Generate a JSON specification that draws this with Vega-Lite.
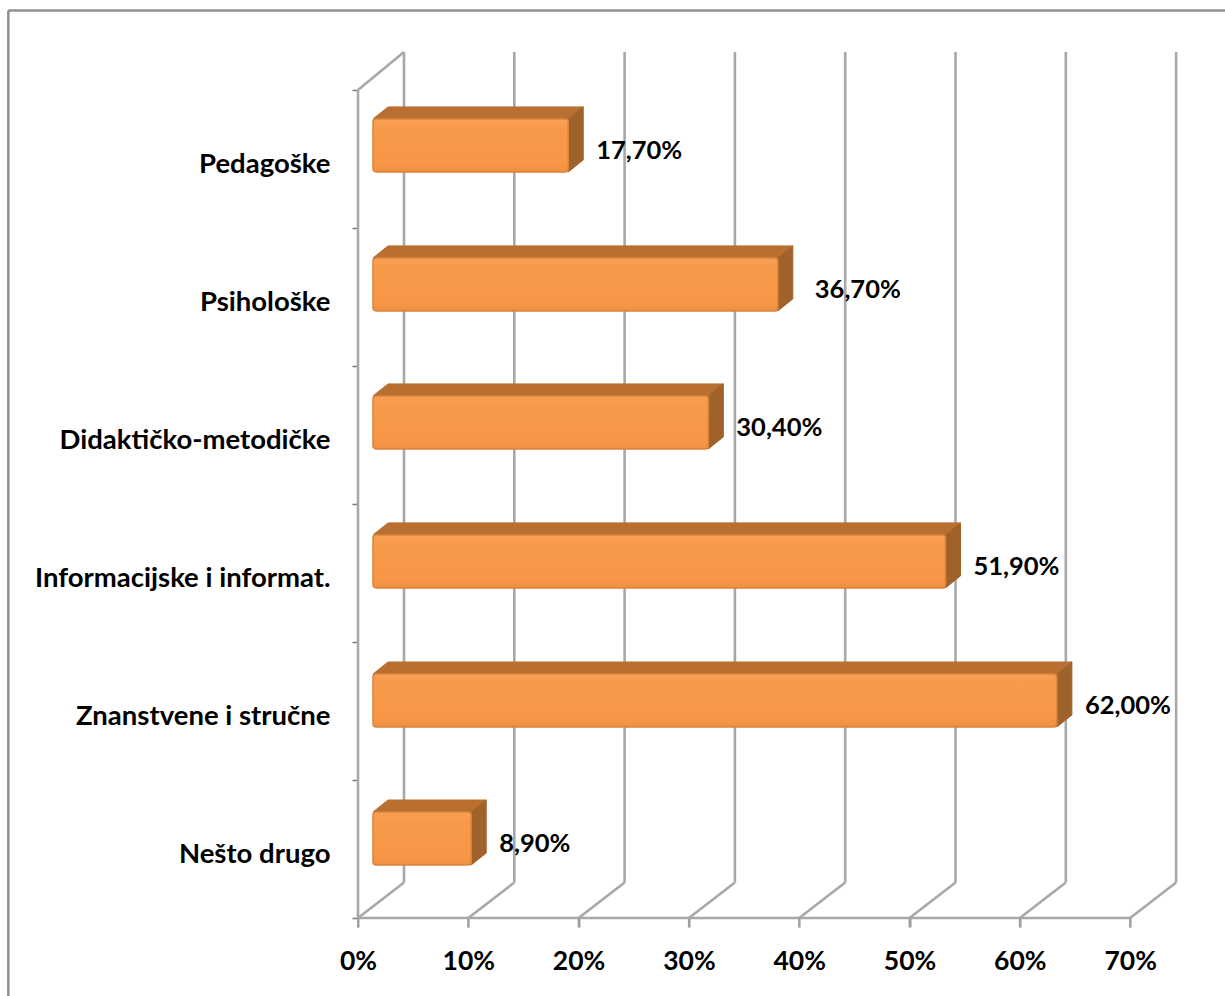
{"$schema":"https://vega.github.io/schema/vega-lite/v6.json","width":820,"height":866,"autosize":"none","padding":{"left":358,"right":47,"top":52,"bottom":78},"background":"white","view":{"stroke":null},
"datasets":{"bars":[{"category":"Pedagoške","pos":5.5,"value":17.7,"label":"17,70%"},{"category":"Psihološke","pos":4.493,"value":36.7,"label":"36,70%"},{"category":"Didaktičko-metodičke","pos":3.493,"value":30.4,"label":"30,40%"},{"category":"Informacijske i informat.","pos":2.486,"value":51.9,"label":"51,90%"},{"category":"Znanstvene i stručne","pos":1.478,"value":62.0,"label":"62,00%"},{"category":"Nešto drugo","pos":0.478,"value":8.9,"label":"8,90%"}],
"ticks":[{"t":0},{"t":10},{"t":20},{"t":30},{"t":40},{"t":50},{"t":60},{"t":70}],
"frame":[{"x0":-31.7,"x1":78.6,"y0":6.575,"y1":6.575},{"x0":-31.7,"x1":-31.7,"y0":-0.57,"y1":6.575}],
"wall":[{"x0":0,"x1":0,"y0":0,"y1":6},{"x0":0,"x1":4.17,"y0":6,"y1":6.275},{"x0":0,"x1":70,"y0":0,"y1":0}]},
"layer":[
{"data":{"name":"frame"},"mark":{"type":"rule","stroke":"#8f8f8f","strokeWidth":2.5},"encoding":{"x":{"field":"x0","type":"quantitative","scale":{"domain":[0,74.34]},"axis":{"values":[0,10,20,30,40,50,60,70],"title":null,"grid":false,"domain":false,"ticks":true,"tickColor":"#999999","tickWidth":2,"tickSize":9,"labelExpr":"datum.value+'%'","labelFont":"Lato","labelFontWeight":"bold","labelFontSize":26.5,"labelColor":"#000000","labelPadding":34,"labelBaseline":"middle","labelOverlap":false,"labelFlush":false}},"x2":{"field":"x1"},"y":{"field":"y0","type":"quantitative","scale":{"domain":[0,6.275]},"axis":{"values":[0,0.5,1,1.5,2,2.5,3,3.5,4,4.5,5,5.5,6],"title":null,"grid":false,"domain":false,"tickColor":"#777777","tickWidth":1.5,"tickSize":6,"tickOpacity":{"condition":{"test":"datum.value%1==0","value":1},"value":0},"labelExpr":"datum.value==5.5?'Pedagoške':datum.value==4.5?'Psihološke':datum.value==3.5?'Didaktičko-metodičke':datum.value==2.5?'Informacijske i informat.':datum.value==1.5?'Znanstvene i stručne':datum.value==0.5?'Nešto drugo':''","labelFont":"Lato","labelFontWeight":"bold","labelFontSize":27.5,"labelColor":"#000000","labelPadding":22,"labelOffset":6,"labelOverlap":false,"labelFlush":false,"labelLimit":340}},"y2":{"field":"y1"}}},
{"data":{"name":"wall"},"mark":{"type":"rule","stroke":"#a8a8a8","strokeWidth":2.6},"encoding":{"x":{"field":"x0","type":"quantitative","scale":{"domain":[0,74.34]}},"x2":{"field":"x1"},"y":{"field":"y0","type":"quantitative","scale":{"domain":[0,6.275]}},"y2":{"field":"y1"}}},
{"data":{"name":"ticks"},"transform":[{"calculate":"datum.t+4.17","as":"tb"},{"calculate":"0.257","as":"yb"},{"calculate":"6.275","as":"yt"}],"mark":{"type":"rule","stroke":"#a8a8a8","strokeWidth":2.6},"encoding":{"x":{"field":"tb","type":"quantitative","scale":{"domain":[0,74.34]}},"y":{"field":"yb","type":"quantitative","scale":{"domain":[0,6.275]}},"y2":{"field":"yt"}}},
{"data":{"name":"ticks"},"transform":[{"calculate":"datum.t+4.17","as":"tb"},{"calculate":"0","as":"y0"},{"calculate":"0.257","as":"yb"}],"mark":{"type":"rule","stroke":"#a8a8a8","strokeWidth":2.6},"encoding":{"x":{"field":"t","type":"quantitative","scale":{"domain":[0,74.34]}},"x2":{"field":"tb"},"y":{"field":"y0","type":"quantitative","scale":{"domain":[0,6.275]}},"y2":{"field":"yb"}}},
{"data":{"name":"ticks"},"transform":[{"calculate":"0","as":"y0"},{"calculate":"-0.068","as":"yb"}],"mark":{"type":"rule","stroke":"#a0a0a0","strokeWidth":2},"encoding":{"x":{"field":"t","type":"quantitative","scale":{"domain":[0,74.34]}},"y":{"field":"y0","type":"quantitative","scale":{"domain":[0,6.275]}},"y2":{"field":"yb"}}},
{"data":{"name":"bars"},"transform":[{"calculate":"[0,1]","as":"d"},{"flatten":["d"]},{"calculate":"1.36+datum.d*1.36","as":"xa"},{"calculate":"datum.value+1.36+datum.d*1.36","as":"xb"},{"calculate":"datum.pos+0.29+datum.d*0.087","as":"ya"}],"mark":{"type":"area","orient":"horizontal","fill":"#b96f30","stroke":"#b96f30","strokeWidth":1},"encoding":{"detail":{"field":"category"},"y":{"field":"ya","type":"quantitative","scale":{"domain":[0,6.275]},"sort":null},"x":{"field":"xa","type":"quantitative","scale":{"domain":[0,74.34]},"stack":null},"x2":{"field":"xb"}}},
{"data":{"name":"bars"},"transform":[{"calculate":"[0,1]","as":"d"},{"flatten":["d"]},{"calculate":"datum.value+1.36+datum.d*1.36","as":"xb"},{"calculate":"datum.pos+0.29+datum.d*0.087","as":"ya"},{"calculate":"datum.pos-0.094+datum.d*0.087","as":"yc"}],"mark":{"type":"area","orient":"vertical","fill":"#a0622b","stroke":"#a0622b","strokeWidth":1},"encoding":{"detail":{"field":"category"},"x":{"field":"xb","type":"quantitative","scale":{"domain":[0,74.34]}},"y":{"field":"ya","type":"quantitative","scale":{"domain":[0,6.275]},"stack":null},"y2":{"field":"yc"}}},
{"data":{"name":"bars"},"transform":[{"calculate":"1.36","as":"xa"},{"calculate":"datum.value+1.36","as":"xb"},{"calculate":"datum.pos+0.29","as":"ya"},{"calculate":"datum.pos-0.094","as":"yc"}],"mark":{"type":"rect","cornerRadius":3,"stroke":"#d9843c","strokeWidth":1.5,"fill":{"x1":0,"y1":0,"x2":0,"y2":1,"gradient":"linear","stops":[{"offset":0,"color":"#f9a155"},{"offset":0.15,"color":"#f89a4b"},{"offset":0.85,"color":"#f79646"},{"offset":1,"color":"#ee8f42"}]}},"encoding":{"x":{"field":"xa","type":"quantitative","scale":{"domain":[0,74.34]}},"x2":{"field":"xb"},"y":{"field":"ya","type":"quantitative","scale":{"domain":[0,6.275]}},"y2":{"field":"yc"}}},
{"data":{"name":"bars"},"transform":[{"filter":"datum.category!='Psihološke'"},{"calculate":"datum.value+2.72","as":"xb"},{"calculate":"datum.pos+0.06","as":"yl"}],"mark":{"type":"text","align":"left","baseline":"middle","dx":13,"font":"Lato","fontWeight":"bold","fontSize":25.5,"fill":"#000000"},"encoding":{"x":{"field":"xb","type":"quantitative","scale":{"domain":[0,74.34]}},"y":{"field":"yl","type":"quantitative","scale":{"domain":[0,6.275]}},"text":{"field":"label"}}},
{"data":{"name":"bars"},"transform":[{"filter":"datum.category=='Psihološke'"},{"calculate":"datum.value+2.72","as":"xb"},{"calculate":"datum.pos+0.06","as":"yl"}],"mark":{"type":"text","align":"left","baseline":"middle","dx":22,"font":"Lato","fontWeight":"bold","fontSize":25.5,"fill":"#000000"},"encoding":{"x":{"field":"xb","type":"quantitative","scale":{"domain":[0,74.34]}},"y":{"field":"yl","type":"quantitative","scale":{"domain":[0,6.275]}},"text":{"field":"label"}}}
]}
